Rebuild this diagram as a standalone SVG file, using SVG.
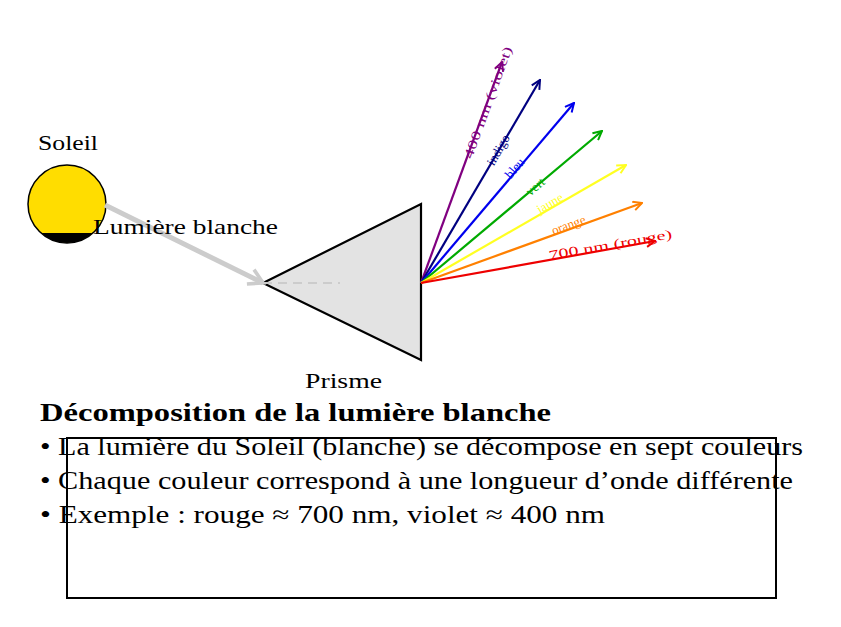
<svg xmlns="http://www.w3.org/2000/svg" width="841" height="627" viewBox="0 0 841 627">
<style>
text{font-family:"Liberation Serif",serif}
.lbl{font-size:22px;fill:#000}
.big{font-size:25px;fill:#000}
.ray{stroke-width:2.2;fill:none}
.small{font-size:13px;text-anchor:middle}
</style>
<defs>
<marker id="ah" viewBox="0 0 10 10" refX="9" refY="5" markerWidth="11" markerHeight="11" orient="auto" markerUnits="userSpaceOnUse">
<path d="M1,1 L9,5 L1,9" fill="none" stroke="context-stroke" stroke-width="1.8"/>
</marker>
<marker id="ahg" viewBox="0 0 10 10" refX="8" refY="5" markerWidth="4" markerHeight="4" orient="auto">
<path d="M1,1 L8,5 L1,9" fill="none" stroke="#ccc" stroke-width="1.8"/>
</marker>
<clipPath id="sc"><circle cx="67" cy="204" r="39"/></clipPath>
</defs>
<rect width="841" height="627" fill="#fff"/>
<g id="sun">
<circle cx="67" cy="204" r="39" fill="#ffdd00"/>
<rect x="20" y="233" width="100" height="20" fill="#000" clip-path="url(#sc)"/>
<circle cx="67" cy="204" r="39" fill="none" stroke="#000" stroke-width="1.5"/>
<text class="lbl" x="38" y="150" textLength="60" lengthAdjust="spacingAndGlyphs">Soleil</text>
</g>
<g id="prism">
<polygon points="263,283 421,204 421,360" fill="#e3e3e3" stroke="#000" stroke-width="2.2"/>
<text class="lbl" x="305" y="388" textLength="77" lengthAdjust="spacingAndGlyphs">Prisme</text>
</g>
<g id="connectors">
<line x1="105" y1="205" x2="263" y2="283" stroke="#ccc" stroke-width="5" marker-end="url(#ahg)"/>
<line x1="263" y1="283" x2="340" y2="283" stroke="#ccc" stroke-width="2" stroke-dasharray="9,6"/>
<line class="ray" x1="421" y1="283" x2="502" y2="62" stroke="#800080" marker-end="url(#ah)"/>
<line class="ray" x1="421" y1="283" x2="540" y2="80" stroke="#000080" marker-end="url(#ah)"/>
<line class="ray" x1="421" y1="283" x2="574" y2="103" stroke="#0000ee" marker-end="url(#ah)"/>
<line class="ray" x1="421" y1="283" x2="602" y2="131" stroke="#00aa00" marker-end="url(#ah)"/>
<line class="ray" x1="421" y1="283" x2="626" y2="165" stroke="#ffff22" marker-end="url(#ah)"/>
<line class="ray" x1="421" y1="283" x2="642" y2="203" stroke="#ff8000" marker-end="url(#ah)"/>
<line class="ray" x1="421" y1="283" x2="655" y2="241" stroke="#ee0000" marker-end="url(#ah)"/>
<text class="small" transform="translate(492,104) rotate(-70)" style="fill:#800080" textLength="118" lengthAdjust="spacingAndGlyphs">400 nm (violet)</text>
<text class="small" transform="translate(502,152) rotate(-60)" style="fill:#000080">indigo</text>
<text class="small" transform="translate(518,171) rotate(-50)" style="fill:#0000ee">bleu</text>
<text class="small" transform="translate(538,190) rotate(-40)" style="fill:#00aa00">vert</text>
<text class="small" transform="translate(552,207) rotate(-30)" style="fill:#ffff22">jaune</text>
<text class="small" transform="translate(570,229) rotate(-20)" style="fill:#ff8000">orange</text>
<text class="small" transform="translate(611,249) rotate(-10)" style="fill:#ee0000" textLength="125" lengthAdjust="spacingAndGlyphs">700 nm (rouge)</text>
<text class="lbl" x="93" y="234" textLength="185" lengthAdjust="spacingAndGlyphs">Lumière blanche</text>
</g>
<g id="legend">
<rect x="67" y="438" width="709" height="160" fill="none" stroke="#000" stroke-width="2"/>
<text class="big" x="40" y="421" font-weight="bold" textLength="511" lengthAdjust="spacingAndGlyphs">Décomposition de la lumière blanche</text>
<text class="big" x="40" y="455" textLength="763" lengthAdjust="spacingAndGlyphs">• La lumière du Soleil (blanche) se décompose en sept couleurs</text>
<text class="big" x="40" y="489" textLength="753" lengthAdjust="spacingAndGlyphs">• Chaque couleur correspond à une longueur d’onde différente</text>
<text class="big" x="40" y="523" textLength="565" lengthAdjust="spacingAndGlyphs">• Exemple : rouge ≈ 700 nm, violet ≈ 400 nm</text>
</g>
</svg>
